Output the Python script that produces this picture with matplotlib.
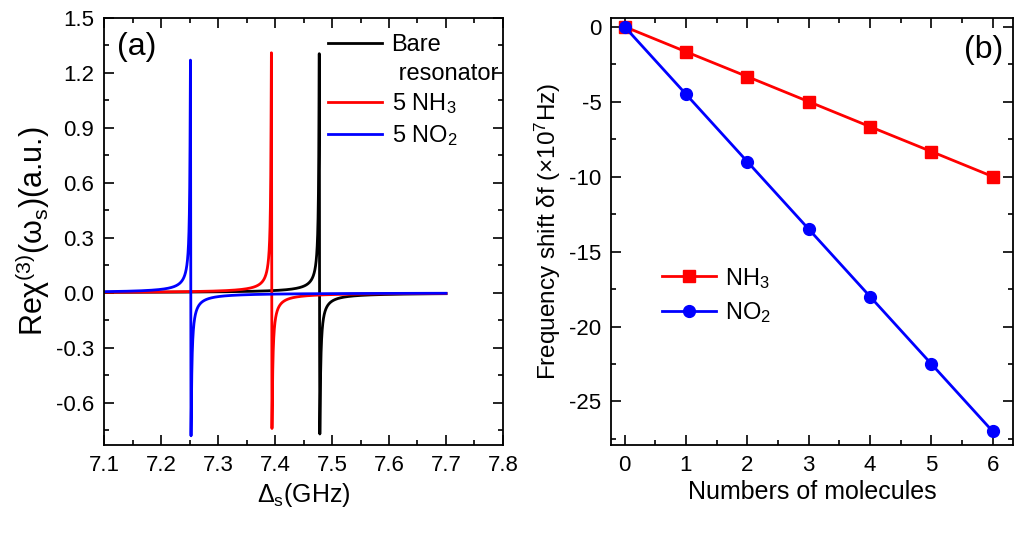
import numpy as np
import matplotlib
matplotlib.use("Agg")
import matplotlib.pyplot as plt
from matplotlib.lines import Line2D
from matplotlib.ticker import MultipleLocator, FormatStrFormatter

plt.rcParams['font.family'] = ['Liberation Sans', 'DejaVu Sans']
plt.rcParams['mathtext.fontset'] = 'custom'
plt.rcParams['mathtext.rm'] = 'Liberation Sans'
plt.rcParams['mathtext.it'] = 'Liberation Sans:italic'
plt.rcParams['mathtext.default'] = 'regular'
plt.rcParams['axes.unicode_minus'] = False

# ---- Panel (a) data: resonance parameters ----
series_a = ["Bare resonator", "5 NH$_3$", "5 NO$_2$"]
colors_a = ["black", "red", "blue"]
centers_ghz = [7.478, 7.394, 7.252]      # resonance positions
peak_max = [1.305, 1.31, 1.27]           # positive extreme
peak_min = [-0.77, -0.74, -0.78]         # negative extreme
half_width_ghz = [0.0005, 0.0005, 0.0005]
x_range_ghz = [7.1, 7.7]

# ---- Panel (b) data ----
molecules = [0, 1, 2, 3, 4, 5, 6]
shift_nh3 = [0, -1.67, -3.33, -5.0, -6.67, -8.33, -10.0]
shift_no2 = [0, -4.5, -9.0, -13.5, -18.0, -22.5, -27.0]


def lineshape(x, x0, vmax, vmin, g):
    # dispersive + absorptive Lorentzian with given extremes
    c = vmax + vmin
    r = (vmax - vmin) / 2.0
    d_amp = np.sqrt(max(r ** 2 - (c / 2.0) ** 2, 0.0))
    d = x0 - x
    den = d ** 2 + g ** 2
    return (d_amp * 2 * g * d + c * g ** 2) / den


fig = plt.figure(figsize=(10.24, 5.54), dpi=100)
axa = fig.add_axes([0.1016, 0.1968, 0.3896, 0.7708])
axb = fig.add_axes([0.5967, 0.1968, 0.3926, 0.7708])

tick_fs = 16
label_fs = 18

for ax in (axa, axb):
    for s in ax.spines.values():
        s.set_linewidth(1.3)
    ax.tick_params(which='both', direction='in', top=True, right=True,
                   width=1.2, labelsize=tick_fs)
    ax.tick_params(which='major', length=7, pad=7)
    ax.tick_params(which='minor', length=3.6)

# Panel (a)
base = np.linspace(x_range_ghz[0], x_range_ghz[1], 6001)
for name, col, x0, vmax, vmin, g in zip(series_a, colors_a, centers_ghz,
                                         peak_max, peak_min, half_width_ghz):
    dense = x0 + np.linspace(-0.02, 0.02, 8001)
    x = np.unique(np.concatenate([base, dense]))
    y = lineshape(x, x0, vmax, vmin, g)
    axa.plot(x, y, color=col, lw=2.0)

axa.set_xlim(7.1, 7.8)
axa.set_ylim(-0.83, 1.5)
axa.xaxis.set_major_locator(MultipleLocator(0.1))
axa.xaxis.set_minor_locator(MultipleLocator(0.05))
axa.yaxis.set_major_locator(MultipleLocator(0.3))
axa.yaxis.set_minor_locator(MultipleLocator(0.15))
axa.yaxis.set_major_formatter(FormatStrFormatter('%.1f'))
axa.xaxis.set_major_formatter(FormatStrFormatter('%.1f'))
axa.set_xlabel(r'$\Delta_s$(GHz)', fontsize=label_fs, labelpad=4)
axa.set_ylabel(r'Re$\chi^{(3)}$($\omega_s$)(a.u.)', fontsize=22, labelpad=3)
axa.text(0.083, 0.932, '(a)', transform=axa.transAxes, fontsize=23,
         ha='center', va='center')

handles = [Line2D([], [], color='black', lw=2.0),
           Line2D([], [], color='none'),
           Line2D([], [], color='red', lw=2.0),
           Line2D([], [], color='blue', lw=2.0)]
labels = ['Bare', ' resonator', series_a[1], series_a[2]]
axa.legend(handles, labels, loc='upper left', bbox_to_anchor=(0.561, 0.962),
           frameon=False, fontsize=17, borderaxespad=0, borderpad=0,
           handlelength=2.3, handletextpad=0.4, labelspacing=0.28)

# Panel (b)
axb.plot(molecules, shift_nh3, color='red', lw=2.0, marker='s', ms=8,
         label='NH$_3$')
axb.plot(molecules, shift_no2, color='blue', lw=2.0, marker='o', ms=8.5,
         label='NO$_2$')
axb.set_xlim(-0.22, 6.33)
axb.set_ylim(-27.9, 0.58)
axb.xaxis.set_major_locator(MultipleLocator(1))
axb.xaxis.set_minor_locator(MultipleLocator(0.5))
axb.yaxis.set_major_locator(MultipleLocator(5))
axb.yaxis.set_minor_locator(MultipleLocator(2.5))
axb.set_xlabel('Numbers of molecules', fontsize=label_fs, labelpad=3)
axb.set_ylabel(r'Frequency shift $\delta$f ($\times$10$^7$Hz)',
               fontsize=17.5, labelpad=4)
axb.text(0.928, 0.925, '(b)', transform=axb.transAxes, fontsize=23,
         ha='center', va='center')
axb.legend(loc='upper left', bbox_to_anchor=(0.127, 0.42), frameon=False,
           fontsize=17, borderaxespad=0, borderpad=0, handlelength=2.3,
           handletextpad=0.35, labelspacing=0.4)

fig.savefig('out.png', dpi=100)
